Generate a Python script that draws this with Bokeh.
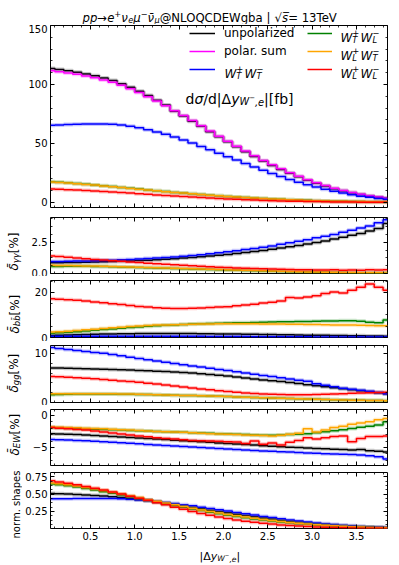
import math
from bokeh.plotting import figure
from bokeh.layouts import column, row
from bokeh.models import (ColumnDataSource, Range1d, LinearAxis, SingleIntervalTicker,
                          NumeralTickFormatter, Label, Legend, LegendItem)
from bokeh.embed import file_html
from bokeh.resources import INLINE

# ---------------- data ----------------
bin_centers = [0.05, 0.15, 0.25, 0.35, 0.45, 0.55, 0.65, 0.75, 0.85, 0.95,
               1.05, 1.15, 1.25, 1.35, 1.45, 1.55, 1.65, 1.75, 1.85, 1.95,
               2.05, 2.15, 2.25, 2.35, 2.45, 2.55, 2.65, 2.75, 2.85, 2.95,
               3.05, 3.15, 3.25, 3.35, 3.45, 3.55, 3.65, 3.75, 3.85]

xsec_unpol = [113.6, 112.8, 111.7, 110.4, 108.9, 107.3, 105.4, 103.3, 100.6, 97.6,
              94.3, 90.6, 86.6, 82.5, 77.4, 73.2, 68.9, 64.5, 60.0, 55.7,
              51.4, 47.2, 43.0, 39.0, 35.1, 31.4, 28.0, 24.8, 21.7, 18.9,
              16.3, 13.9, 11.7, 9.9, 8.1, 6.7, 5.5, 4.4, 3.5]
xsec_psum = [111.7, 110.8, 109.8, 108.6, 107.2, 105.7, 103.9, 101.9, 99.3, 96.4,
             93.2, 89.7, 85.9, 81.9, 77.8, 73.7, 69.4, 65.0, 60.5, 56.2,
             51.9, 47.7, 43.5, 39.5, 35.6, 31.9, 28.5, 25.2, 22.1, 19.3,
             16.7, 14.3, 12.1, 10.2, 8.4, 7.0, 5.7, 4.6, 3.6]
xsec_TT = [65.5, 65.7, 66.0, 66.2, 66.4, 66.5, 66.5, 66.3, 65.6, 64.6,
           63.3, 61.7, 59.8, 57.7, 55.4, 52.9, 50.3, 47.5, 44.6, 41.7,
           38.8, 35.9, 33.0, 30.1, 27.3, 24.6, 22.0, 19.5, 17.2, 15.0,
           13.0, 11.1, 9.4, 7.9, 6.5, 5.3, 4.3, 3.4, 2.7]
xsec_TL = [17.6, 17.1, 16.6, 16.0, 15.4, 14.8, 14.1, 13.4, 12.7, 12.0,
           11.3, 10.6, 9.9, 9.2, 8.5, 7.9, 7.3, 6.7, 6.1, 5.6,
           5.1, 4.6, 4.1, 3.7, 3.3, 2.9, 2.6, 2.3, 2.0, 1.8,
           1.5, 1.3, 1.1, 1.0, 0.8, 0.7, 0.6, 0.5, 0.4]
xsec_LT = [17.3, 16.9, 16.4, 15.9, 15.3, 14.7, 14.0, 13.3, 12.6, 11.9,
           11.2, 10.5, 9.8, 9.1, 8.5, 7.9, 7.3, 6.7, 6.1, 5.6,
           5.1, 4.6, 4.1, 3.7, 3.3, 2.9, 2.6, 2.3, 2.0, 1.7,
           1.5, 1.3, 1.1, 0.9, 0.8, 0.7, 0.6, 0.5, 0.4]
xsec_LL = [11.3, 11.1, 10.8, 10.5, 10.1, 9.7, 9.3, 8.9, 8.4, 7.9,
           7.4, 6.9, 6.4, 5.9, 5.4, 5.0, 4.5, 4.1, 3.7, 3.3,
           2.9, 2.6, 2.3, 2.0, 1.7, 1.5, 1.3, 1.1, 0.9, 0.8,
           0.7, 0.55, 0.45, 0.4, 0.3, 0.25, 0.2, 0.17, 0.14]

dAA_unpol = [0.85, 0.86, 0.87, 0.88, 0.90, 0.91, 0.93, 0.95, 0.97, 1.00,
             1.03, 1.06, 1.10, 1.14, 1.18, 1.23, 1.28, 1.33, 1.39, 1.45,
             1.52, 1.59, 1.67, 1.75, 1.84, 1.93, 2.03, 2.13, 2.24, 2.36,
             2.48, 2.60, 2.75, 2.90, 3.05, 3.20, 3.40, 3.60, 4.00]
dAA_TT = [0.95, 0.96, 0.97, 0.99, 1.00, 1.02, 1.04, 1.06, 1.09, 1.12,
          1.15, 1.19, 1.23, 1.27, 1.32, 1.37, 1.43, 1.50, 1.57, 1.65,
          1.73, 1.82, 1.91, 2.00, 2.10, 2.20, 2.33, 2.45, 2.57, 2.70,
          2.85, 2.97, 3.12, 3.30, 3.45, 3.63, 3.80, 4.05, 4.30]
dAA_TL = [0.55, 0.56, 0.57, 0.57, 0.57, 0.56, 0.55, 0.54, 0.52, 0.50,
          0.48, 0.46, 0.44, 0.42, 0.40, 0.38, 0.36, 0.34, 0.32, 0.30,
          0.28, 0.26, 0.24, 0.22, 0.20, 0.18, 0.16, 0.14, 0.13, 0.12,
          0.10, 0.09, 0.08, 0.07, 0.06, 0.05, 0.05, 0.04, 0.04]
dAA_LT = [0.65, 0.64, 0.63, 0.62, 0.60, 0.59, 0.57, 0.55, 0.53, 0.51,
          0.49, 0.47, 0.45, 0.43, 0.41, 0.39, 0.37, 0.35, 0.33, 0.31,
          0.29, 0.27, 0.25, 0.23, 0.21, 0.19, 0.17, 0.15, 0.14, 0.12,
          0.11, 0.10, 0.09, 0.08, 0.07, 0.06, 0.05, 0.05, 0.04]
dAA_LL = [1.40, 1.35, 1.30, 1.24, 1.18, 1.12, 1.07, 1.02, 0.97, 0.92,
          0.87, 0.82, 0.78, 0.73, 0.69, 0.65, 0.61, 0.57, 0.54, 0.50,
          0.47, 0.44, 0.41, 0.39, 0.37, 0.35, 0.33, 0.32, 0.30, 0.29,
          0.28, 0.27, 0.30, 0.26, 0.28, 0.25, 0.30, 0.27, 0.30]

dBB_unpol = [0.9, 1.0, 1.1, 1.2, 1.3, 1.4, 1.5, 1.6, 1.65, 1.7,
             1.75, 1.8, 1.8, 1.8, 1.8, 1.8, 1.75, 1.7, 1.65, 1.6,
             1.55, 1.5, 1.45, 1.4, 1.35, 1.3, 1.25, 1.2, 1.1, 1.05,
             1.0, 0.95, 0.9, 0.85, 0.8, 0.75, 0.7, 0.65, 0.6]
dBB_TT = [0.6, 0.6, 0.6, 0.6, 0.6, 0.6, 0.6, 0.6, 0.6, 0.6,
          0.58, 0.57, 0.56, 0.55, 0.54, 0.53, 0.52, 0.5, 0.48, 0.46,
          0.44, 0.42, 0.4, 0.38, 0.36, 0.34, 0.32, 0.3, 0.29, 0.28,
          0.27, 0.26, 0.25, 0.24, 0.23, 0.22, 0.21, 0.2, 0.2]
dBB_TL = [1.9, 2.1, 2.3, 2.6, 2.9, 3.2, 3.5, 3.8, 4.1, 4.4,
          4.7, 5.0, 5.2, 5.4, 5.6, 5.8, 6.0, 6.1, 6.2, 6.3,
          6.4, 6.5, 6.6, 6.7, 6.8, 6.9, 7.0, 7.0, 7.1, 7.1,
          7.2, 7.3, 7.3, 7.4, 7.4, 7.2, 6.8, 6.6, 7.8]
dBB_LT = [2.4, 2.6, 2.8, 3.1, 3.4, 3.7, 4.0, 4.3, 4.6, 4.9,
          5.1, 5.3, 5.5, 5.6, 5.7, 5.8, 5.9, 6.0, 6.0, 6.1,
          6.1, 6.1, 6.1, 6.1, 6.0, 6.0, 6.0, 5.9, 5.9, 5.8,
          5.8, 5.7, 5.6, 5.6, 5.5, 5.4, 5.3, 5.2, 5.2]
dBB_LL = [17.2, 17.0, 16.8, 16.5, 16.2, 15.8, 15.4, 15.0, 14.6, 14.2,
          13.8, 13.5, 13.2, 13.0, 12.9, 12.9, 13.0, 13.1, 13.3, 13.5,
          13.7, 14.1, 14.4, 14.8, 15.3, 15.7, 16.2, 17.8, 17.5, 18.0,
          18.5, 19.5, 20.2, 19.8, 21.0, 22.3, 23.7, 22.3, 21.0]

dGG_unpol = [7.0, 7.0, 6.95, 6.9, 6.85, 6.8, 6.75, 6.7, 6.65, 6.6,
             6.5, 6.45, 6.35, 6.3, 6.2, 6.1, 6.0, 5.85, 5.7, 5.55,
             5.4, 5.2, 5.0, 4.8, 4.6, 4.45, 4.25, 4.05, 3.85, 3.6,
             3.4, 3.2, 3.0, 2.8, 2.6, 2.4, 2.2, 2.0, 1.8]
dGG_TT = [11.2, 11.0, 10.8, 10.6, 10.4, 10.2, 10.0, 9.75, 9.5, 9.2,
          8.95, 8.7, 8.45, 8.2, 7.95, 7.7, 7.45, 7.2, 6.95, 6.7,
          6.5, 6.25, 6.0, 5.75, 5.5, 5.3, 5.05, 4.8, 4.55, 4.3,
          3.8, 3.5, 3.2, 2.9, 2.7, 2.5, 2.3, 2.05, 1.8]
dGG_TL = [1.6, 1.65, 1.7, 1.72, 1.74, 1.74, 1.74, 1.72, 1.7, 1.68,
          1.65, 1.62, 1.58, 1.54, 1.5, 1.45, 1.4, 1.35, 1.3, 1.25,
          1.2, 1.14, 1.08, 1.02, 0.96, 0.9, 0.85, 0.8, 0.75, 0.7,
          0.65, 0.6, 0.56, 0.52, 0.48, 0.45, 0.42, 0.4, 0.38]
dGG_LT = [1.8, 1.8, 1.8, 1.8, 1.8, 1.8, 1.8, 1.78, 1.75, 1.72,
          1.68, 1.64, 1.6, 1.55, 1.5, 1.45, 1.4, 1.35, 1.3, 1.25,
          1.2, 1.14, 1.08, 1.02, 0.96, 0.9, 0.85, 0.8, 0.75, 0.7,
          0.65, 0.6, 0.56, 0.52, 0.48, 0.45, 0.42, 0.4, 0.38]
dGG_LL = [5.3, 5.25, 5.15, 5.05, 4.95, 4.85, 4.7, 4.55, 4.4, 4.25,
          4.1, 3.9, 3.75, 3.55, 3.35, 3.15, 2.95, 2.75, 2.6, 2.4,
          2.25, 2.1, 1.95, 1.85, 1.75, 1.7, 1.65, 1.6, 1.6, 1.6,
          1.65, 1.7, 1.75, 1.8, 1.9, 1.95, 2.0, 2.05, 2.1]

dEW_unpol = [-2.85, -2.9, -2.95, -3.0, -3.08, -3.15, -3.22, -3.3, -3.38, -3.46,
             -3.54, -3.62, -3.7, -3.78, -3.86, -3.95, -4.03, -4.12, -4.2, -4.3,
             -4.38, -4.46, -4.55, -4.63, -4.72, -4.8, -4.88, -4.95, -5.02, -5.08,
             -5.14, -5.2, -5.26, -5.32, -5.38, -5.3, -5.5, -5.6, -5.7]
dEW_TT = [-3.75, -3.8, -3.85, -3.9, -3.97, -4.05, -4.12, -4.2, -4.28, -4.36,
          -4.44, -4.52, -4.6, -4.68, -4.76, -4.84, -4.92, -5.0, -5.08, -5.16,
          -5.24, -5.32, -5.4, -5.47, -5.54, -5.6, -5.66, -5.72, -5.78, -5.84,
          -5.9, -5.96, -6.0, -6.05, -6.1, -6.15, -6.3, -6.45, -6.8]
dEW_TL = [-1.9, -1.95, -2.0, -2.05, -2.1, -2.15, -2.2, -2.25, -2.3, -2.35,
          -2.4, -2.45, -2.5, -2.55, -2.6, -2.65, -2.7, -2.75, -2.8, -2.85,
          -2.9, -2.95, -3.0, -3.05, -3.1, -3.1, -3.05, -3.0, -2.95, -2.85,
          -2.7, -2.55, -2.4, -2.25, -2.05, -1.85, -1.7, -1.5, -1.0]
dEW_LT = [-1.8, -1.85, -1.9, -1.95, -2.0, -2.05, -2.1, -2.15, -2.25, -2.3,
          -2.35, -2.45, -2.5, -2.55, -2.6, -2.65, -2.7, -2.8, -2.85, -2.9,
          -2.95, -3.0, -3.05, -3.1, -3.15, -3.2, -3.1, -2.95, -2.8, -2.1,
          -2.6, -2.3, -1.9, -1.7, -1.4, -1.2, -1.0, -0.7, -0.5]
dEW_LL = [-1.9, -2.0, -2.1, -2.2, -2.3, -2.45, -2.6, -2.75, -2.9, -3.05,
          -3.2, -3.35, -3.5, -3.6, -3.7, -3.8, -3.9, -3.95, -4.0, -4.05,
          -4.1, -4.15, -4.4, -4.0, -4.5, -4.3, -4.6, -4.2, -3.9, -3.5,
          -3.7, -3.5, -3.3, -3.2, -4.1, -3.6, -3.3, -3.3, -3.2]

shape_unpol = [0.508, 0.505, 0.5, 0.495, 0.488, 0.48, 0.471, 0.461, 0.449, 0.436,
               0.422, 0.406, 0.388, 0.369, 0.347, 0.328, 0.309, 0.289, 0.269, 0.249,
               0.23, 0.211, 0.192, 0.174, 0.157, 0.141, 0.125, 0.111, 0.097, 0.085,
               0.073, 0.062, 0.052, 0.044, 0.036, 0.03, 0.025, 0.02, 0.016]
shape_TT = [0.431, 0.432, 0.434, 0.435, 0.437, 0.437, 0.437, 0.436, 0.431, 0.425,
            0.416, 0.406, 0.393, 0.379, 0.364, 0.348, 0.331, 0.312, 0.293, 0.274,
            0.255, 0.236, 0.217, 0.198, 0.179, 0.162, 0.145, 0.128, 0.113, 0.099,
            0.085, 0.073, 0.062, 0.052, 0.043, 0.035, 0.028, 0.022, 0.018]
shape_TL = [0.645, 0.635, 0.62, 0.6, 0.58, 0.56, 0.535, 0.51, 0.485, 0.46,
            0.435, 0.41, 0.385, 0.36, 0.335, 0.31, 0.285, 0.262, 0.24, 0.218,
            0.197, 0.178, 0.16, 0.143, 0.127, 0.112, 0.098, 0.086, 0.075, 0.065,
            0.056, 0.048, 0.041, 0.034, 0.028, 0.023, 0.019, 0.016, 0.013]
shape_LT = [0.66, 0.65, 0.635, 0.615, 0.595, 0.575, 0.55, 0.525, 0.5, 0.475,
            0.45, 0.42, 0.395, 0.37, 0.345, 0.32, 0.295, 0.272, 0.25, 0.228,
            0.208, 0.188, 0.17, 0.152, 0.136, 0.12, 0.106, 0.093, 0.081, 0.07,
            0.06, 0.051, 0.043, 0.036, 0.03, 0.025, 0.02, 0.017, 0.014]
shape_LL = [0.69, 0.675, 0.655, 0.635, 0.61, 0.585, 0.56, 0.53, 0.5, 0.47,
            0.44, 0.41, 0.375, 0.345, 0.31, 0.28, 0.25, 0.22, 0.195, 0.17,
            0.148, 0.128, 0.11, 0.094, 0.08, 0.068, 0.057, 0.048, 0.04, 0.033,
            0.027, 0.022, 0.018, 0.015, 0.012, 0.01, 0.008, 0.007, 0.006]

COLORS = {"unpol": "#000000", "psum": "#ff00ff", "TT": "#0000ff",
          "TL": "#008000", "LT": "#ffa500", "LL": "#ff0000"}
FONT = "DejaVu Sans"

EM = {" ": .318, "%": .950, "(": .390, ")": .390, "+": .838, ",": .318, "-": .361, ".": .318,
      "/": .337, "=": .838, "@": 1.0, "[": .390, "]": .390, "|": .337,
      "0": .636, "1": .636, "2": .636, "3": .636, "5": .636, "7": .636,
      "C": .698, "D": .770, "E": .632, "L": .557, "N": .748, "O": .787, "Q": .787,
      "T": .611, "V": .684, "W": .989,
      "a": .613, "b": .635, "d": .635, "e": .615, "f": .352, "g": .635, "h": .634, "i": .278,
      "l": .278, "m": .974, "n": .634, "o": .612, "p": .635, "r": .411, "s": .521, "u": .634,
      "y": .592, "z": .525,
      "Δ": .684, "δ": .612, "γ": .592, "μ": .636, "ν": .592, "σ": .634,
      "→": .838, "−": .838, "√": .636}


def tw(text, size):
    return sum(EM.get(ch, 0.6) for ch in text if not (0x300 <= ord(ch) <= 0x36f)) * size


def put(p, pieces, x0, y0, vertical=False):
    """pieces: (text, size, italic, dy, advance or None); screen px from frame bottom-left"""
    pos = 0.0
    for text, size, italic, dy, adv in pieces:
        kw = dict(text=text, x_units="screen", y_units="screen",
                  text_font=FONT, text_font_size=f"{size}px",
                  text_font_style="italic" if italic else "normal",
                  text_color="black", text_align="left", text_baseline="alphabetic")
        if vertical:
            lab = Label(x=x0 - dy, y=y0 + pos, angle=math.pi / 2, **kw)
        else:
            lab = Label(x=x0 + pos, y=y0 + dy, **kw)
        p.add_layout(lab)
        pos += tw(text, size) if adv is None else adv


LEFT, RIGHT, W = 26, 4, 369


def text_fig(w, h, left=0, right=0):
    f = figure(width=w, height=h, x_range=Range1d(0, 1), y_range=Range1d(0, 1),
               output_backend="svg", toolbar_location=None, title=None,
               x_axis_location=None, y_axis_location=None,
               min_border_left=left, min_border_right=right, min_border_top=0, min_border_bottom=0)
    f.grid.visible = False
    f.outline_line_color = None
    f.background_fill_color = "white"
    f.border_fill_color = "white"
    return f


def style_axis(ax, labels):
    ax.axis_line_color = None
    ax.major_tick_in = 4
    ax.major_tick_out = 0
    ax.minor_tick_in = 2
    ax.minor_tick_out = 0
    ax.major_tick_line_color = "black"
    ax.minor_tick_line_color = "black"
    ax.major_tick_line_width = 1
    ax.minor_tick_line_width = 0.8
    if labels:
        ax.major_label_text_font = FONT
        ax.major_label_text_font_size = "10px"
        ax.major_label_text_color = "black"
        ax.major_label_standoff = 3
    else:
        ax.major_label_text_color = None
        ax.major_label_text_alpha = 0
        ax.major_label_text_font_size = "1px"
        ax.major_label_standoff = 0


x_range = Range1d(0.05, 3.85)


def make_panel(height, top, bottom, yr, yint, yminor, yfmt, xlabels=False, overrides=None):
    p = figure(width=W, height=height, x_range=x_range, y_range=Range1d(*yr),
               output_backend="svg", toolbar_location=None, title=None,
               x_axis_location=None, y_axis_location=None,
               min_border_left=LEFT, min_border_right=RIGHT,
               min_border_top=top, min_border_bottom=bottom)
    p.grid.visible = False
    p.outline_line_color = "black"
    p.outline_line_width = 1
    p.outline_line_alpha = 1
    p.background_fill_color = "white"
    p.border_fill_color = "white"
    for loc in ("below", "above"):
        ax = LinearAxis(ticker=SingleIntervalTicker(interval=0.5, num_minor_ticks=5),
                        formatter=NumeralTickFormatter(format="0.0"))
        style_axis(ax, xlabels and loc == "below")
        p.add_layout(ax, loc)
    for loc in ("left", "right"):
        ax = LinearAxis(ticker=SingleIntervalTicker(interval=yint, num_minor_ticks=yminor),
                        formatter=NumeralTickFormatter(format=yfmt))
        style_axis(ax, loc == "left")
        if overrides and loc == "left":
            ax.major_label_overrides = overrides
        p.add_layout(ax, loc)
    return p


def draw(p, data):
    src = ColumnDataSource(dict(x=bin_centers, **data))
    rs = {}
    for key in data:
        p.step(x="x", y=key, source=src, mode="center", line_color=COLORS[key],
               line_width=4, line_alpha=0.22)
        rs[key] = p.step(x="x", y=key, source=src, mode="center",
                         line_color=COLORS[key], line_width=1.5)
    return rs


# ---------------- title strip (frame aligned with the panels) ----------------
title_fig = text_fig(W, 24, LEFT, RIGHT)
ts, ss = 11.7, 8.2
put(title_fig, [("pp", ts, True, 0, None), ("→", ts, False, 0, None), ("e", ts, True, 0, None),
                ("+", ss, False, 4.3, None), ("ν", ts, True, 0, None), ("e", ss, True, -2.4, None),
                ("μ", ts, True, 0, None), ("−", ss, False, 4.3, None),
                ("ν\u0304", ts, True, 0, None), ("μ", ss, True, -2.4, None),
                ("@NLOQCDEWgba | ", ts, False, 0, None),
                ("√", ts, False, 0, None), ("s\u0305", ts, True, 0, None),
                (" = 13TeV", ts, False, 0, None)], 32, 7)

# ---------------- panel 1: distribution ----------------
p1 = make_panel(188, 1, 5, (-4.3, 150), 50, 5, "0")
rs = draw(p1, {"unpol": xsec_unpol, "psum": xsec_psum, "TT": xsec_TT,
               "TL": xsec_TL, "LT": xsec_LT, "LL": xsec_LL})

leg_kw = dict(background_fill_alpha=0, border_line_alpha=0, padding=0, margin=0,
              spacing=2, glyph_height=16, label_height=16,
              label_text_font=FONT, label_text_font_size="12px", label_text_color="black")
leg1 = Legend(items=[LegendItem(label="unpolarized", renderers=[rs["unpol"]]),
                     LegendItem(label="polar. sum", renderers=[rs["psum"]]),
                     LegendItem(label=" ", renderers=[rs["TT"]])],
              location=(139, 130), glyph_width=26, label_standoff=9, **leg_kw)
leg2 = Legend(items=[LegendItem(label=" ", renderers=[rs["TL"]]),
                     LegendItem(label=" ", renderers=[rs["LT"]]),
                     LegendItem(label=" ", renderers=[rs["LL"]])],
              location=(257, 130), glyph_width=25, label_standoff=8, **leg_kw)
p1.add_layout(leg1)
p1.add_layout(leg2)


def wpol(a, b):
    return [("W", 12, True, 0, None),
            ("+", 8.4, False, 4.6, 0), (a, 8.4, True, -2.8, 8.2),
            ("W", 12, True, 0, None),
            ("−", 8.4, False, 4.6, 0), (b, 8.4, True, -2.8, 8.2)]


put(p1, wpol("T", "T"), 174, 134)
put(p1, wpol("T", "L"), 290, 170)
put(p1, wpol("L", "T"), 290, 152)
put(p1, wpol("L", "L"), 290, 134)

put(p1, [("d", 14, False, 0, None), ("σ", 14, True, 0, None), ("/d", 14, False, 0, None),
         ("|Δ", 14, False, 0, None), ("y", 14, True, 0, None),
         ("W", 9.8, True, -3, None), ("−", 6.9, False, 1.5, None),
         (",e", 9.8, True, -3, None), ("|[fb]", 14, False, 0, None)], 135, 109)

# ---------------- ratio panels ----------------
p2 = make_panel(64, 5, 3, (0, 4.47), 2.5, 4, "0.0")
draw(p2, {"unpol": dAA_unpol, "TT": dAA_TT, "TL": dAA_TL, "LT": dAA_LT, "LL": dAA_LL})

p3 = make_panel(65, 4, 4, (0, 25.3), 20, 4, "0")
draw(p3, {"unpol": dBB_unpol, "TT": dBB_TT, "TL": dBB_TL, "LT": dBB_LT, "LL": dBB_LL})

p4 = make_panel(64, 4, 3, (0, 11.6), 10, 5, "0")
draw(p4, {"unpol": dGG_unpol, "TT": dGG_TT, "TL": dGG_TL, "LT": dGG_LT, "LL": dGG_LL})

p5 = make_panel(63, 4, 3, (-7.8, 0.9), 5, 5, "0", overrides={-5: "−5"})
draw(p5, {"unpol": dEW_unpol, "TT": dEW_TT, "TL": dEW_TL, "LT": dEW_LT, "LL": dEW_LL})

p6 = make_panel(76, 4, 16, (0.005, 0.81), 0.25, 4, "0.00", xlabels=True)
draw(p6, {"unpol": shape_unpol, "TT": shape_TT, "TL": shape_TL, "LT": shape_LT, "LL": shape_LL})

# x-axis label strip (frame aligned with the panels)
xlab_fig = text_fig(W, 19, LEFT, RIGHT)
put(xlab_fig, [("|Δ", 11, False, 0, None), ("y", 11, True, 0, None),
               ("W", 7.7, True, -2.4, None), ("−", 5.4, False, 1.2, None),
               (",e", 7.7, True, -2.4, None), ("|", 11, False, 0, None)], 149, 7)

right_col = column(title_fig, p1, p2, p3, p4, p5, p6, xlab_fig, spacing=0)

# ---------------- y-label strip at the far left ----------------
TOTAL_H = 24 + 188 + 64 + 65 + 64 + 63 + 76 + 19
ylab_fig = text_fig(22, TOTAL_H)


def dlabel(sub):
    return [("δ\u0304", 12, True, 0, None), (sub, 8.4, True, -2.4, None),
            ("[%]", 12, False, 0, None)]


put(ylab_fig, dlabel("γγ"), 13.5, TOTAL_H - 270, vertical=True)
put(ylab_fig, dlabel("bb\u0304"), 14, TOTAL_H - 333, vertical=True)
put(ylab_fig, dlabel("gg"), 13.5, TOTAL_H - 392, vertical=True)
put(ylab_fig, dlabel("EW"), 14, TOTAL_H - 455, vertical=True)
put(ylab_fig, [("norm. shapes", 10, False, 0, None)], 16, TOTAL_H - 538, vertical=True)

layout = row(ylab_fig, right_col, spacing=0)
open("out.html", "w").write(file_html(layout, INLINE))
